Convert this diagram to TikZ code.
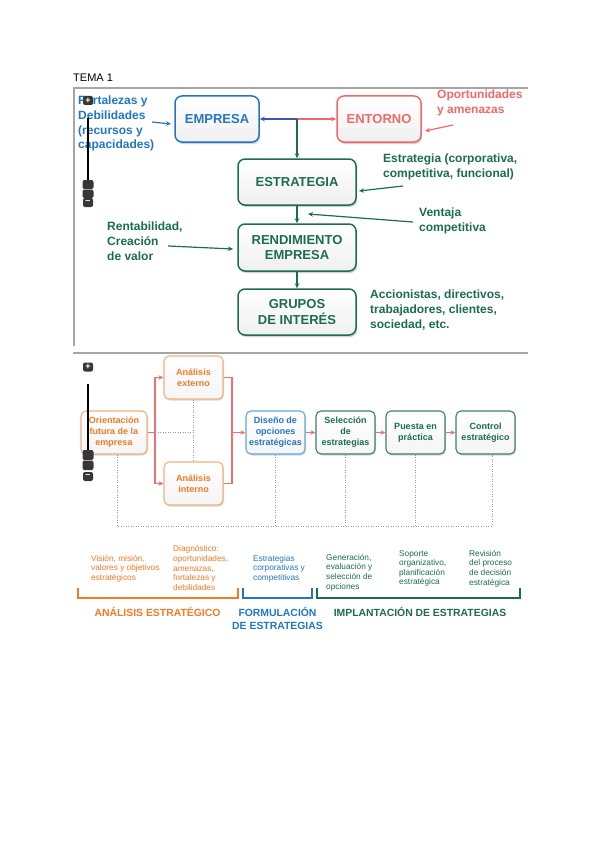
\documentclass[tikz,border=0pt]{standalone}
\usepackage{fontspec}
\setmainfont{Liberation Sans}
\usetikzlibrary{arrows.meta,shadows}
\definecolor{cBlue}{RGB}{35,118,195}
\definecolor{cRed}{RGB}{240,105,105}
\definecolor{cGreen}{RGB}{28,108,82}
\definecolor{cOrange}{RGB}{245,122,38}
\definecolor{cOrLight}{RGB}{240,178,125}
\definecolor{cBlLight}{RGB}{95,168,222}
\definecolor{cGrLight}{RGB}{60,128,106}
\definecolor{cLink}{RGB}{240,112,112}
\definecolor{cWidget}{RGB}{55,55,55}
\begin{document}
\begin{tikzpicture}[x=1pt,y=-1pt,
  topbox/.style={draw, line width=1.5pt, rounded corners=7pt, top color=white, bottom color=gray!12,
     drop shadow={opacity=0.35,shadow xshift=1.2pt,shadow yshift=-2pt}, align=center, inner sep=0,
     font=\bfseries\fontsize{13}{15.5}\selectfont},
  lowbox/.style={draw, line width=1.1pt, rounded corners=5pt, top color=white, bottom color=gray!8,
     drop shadow={opacity=0.3,shadow xshift=1pt,shadow yshift=-1.5pt}, align=center, inner sep=0,
     minimum width=59pt, minimum height=43pt, font=\bfseries\fontsize{9}{11}\selectfont},
  note/.style={anchor=north west, inner sep=0, align=left, font=\bfseries\fontsize{12}{14.6}\selectfont},
  small/.style={anchor=north west, inner sep=0, align=left, font=\fontsize{8.3}{9.6}\selectfont},
  phase/.style={inner sep=0, align=center, font=\bfseries\fontsize{10.4}{13}\selectfont},
  tip/.style={-{Stealth[length=5pt,width=4.5pt]}},
  ann/.style={tip, line width=1.2pt},
  link/.style={cLink, line width=1.2pt},
  dotline/.style={gray!80, line width=1pt, dash pattern=on 1pt off 1.5pt},
  frame/.style={gray!70, line width=1.3pt},
  wbtn/.style={fill=cWidget, rounded corners=2pt, minimum width=10pt, minimum height=9pt, inner sep=0, text=white, font=\bfseries\fontsize{9}{9}\selectfont}
]
\useasboundingbox (0,0) rectangle (600,848);
\fill[white] (0,0) rectangle (600,848);

% ---------- heading and frames ----------
\node[anchor=west, inner sep=0, font=\fontsize{11}{13}\selectfont] (tema) at (73,78) {TEMA 1};
\draw[frame] (73,88) -- (528,88);
\draw[frame] (74,88) -- (74,346);
\draw[frame] (73,353) -- (528,353);

% ---------- upper diagram ----------
\node[topbox, draw=cBlue, text=cBlue, minimum width=84pt, minimum height=46pt] (emp) at (217,119) {EMPRESA};
\node[topbox, draw=cRed, text=cRed, minimum width=84pt, minimum height=46pt] (ent) at (379,119) {ENTORNO};
\node[topbox, draw=cGreen, text=cGreen, minimum width=118pt, minimum height=46pt] (est) at (297,182) {ESTRATEGIA};
\node[topbox, draw=cGreen, text=cGreen, minimum width=118pt, minimum height=47pt] (ren) at (297,247.5) {RENDIMIENTO\\EMPRESA};
\node[topbox, draw=cGreen, text=cGreen, minimum width=118pt, minimum height=46pt] (gru) at (297,312) {GRUPOS\\DE INTERÉS};

\coordinate (j) at (297,119);
\draw[tip, line width=1.1pt, cBlue!70!violet] (j) -- (emp.east);
\draw[tip, line width=1.1pt, cRed] (j) -- (ent.west);
\draw[tip, line width=1.3pt, cGreen] (j) -- (est.north);
\draw[tip, line width=1.3pt, cGreen] (est.south) -- (ren.north);
\draw[tip, line width=1.3pt, cGreen] (ren.south) -- (gru.north);

\node[note, text=cBlue] (fort) at (78,96) {Fortalezas y\\Debilidades\\(recursos y\\capacidades)};
\node[note, text=cRed] (opo) at (437,90) {Oportunidades\\y amenazas};
\node[note, text=cGreen] (estn) at (383,154) {Estrategia (corporativa,\\competitiva, funcional)};
\node[note, text=cGreen] (ven) at (419,208) {Ventaja\\competitiva};
\node[note, text=cGreen] (rent) at (107,222) {Rentabilidad,\\Creación\\de valor};
\node[note, text=cGreen] (acc) at (370,290) {Accionistas, directivos,\\trabajadores, clientes,\\sociedad, etc.};

\coordinate (a1s) at (152,122); \coordinate (a1e) at (171,124);
\coordinate (a2s) at (453,125); \coordinate (a2e) at (425,131);
\coordinate (a3s) at (403,186); \coordinate (a3e) at (359,191);
\coordinate (a4s) at (413,222); \coordinate (a4e) at (308,214);
\coordinate (a5s) at (168,246); \coordinate (a5e) at (233,249);
\draw[ann, cBlue] (a1s) -- (a1e);
\draw[ann, cRed] (a2s) -- (a2e);
\draw[ann, cGreen] (a3s) -- (a3e);
\draw[ann, cGreen] (a4s) -- (a4e);
\draw[ann, cGreen] (a5s) -- (a5e);

% ---------- lower diagram ----------
\node[lowbox, draw=cOrLight, text=cOrange, minimum width=66pt] (ori) at (114,432.5) {Orientación\\futura de la\\empresa};
\node[lowbox, draw=cOrLight, text=cOrange] (aex) at (193.5,377.5) {Análisis\\externo};
\node[lowbox, draw=cOrLight, text=cOrange] (ain) at (193.5,483.5) {Análisis\\interno};
\node[lowbox, draw=cBlLight, text=cBlue] (dis) at (275.5,432.5) {Diseño de\\opciones\\estratégicas};
\node[lowbox, draw=cGrLight, text=cGreen] (sel) at (345.5,432.5) {Selección\\de\\estrategias};
\node[lowbox, draw=cGrLight, text=cGreen] (pue) at (415.5,432.5) {Puesta en\\práctica};
\node[lowbox, draw=cGrLight, text=cGreen] (con) at (485.5,432.5) {Control\\estratégico};

\coordinate (s1) at (155,432.5);
\coordinate (s2) at (232,432.5);
\coordinate (dc) at (193.5,432.5);
\draw[dotline] (s1) -- (dc);
\draw[dotline] (aex.south) -- (ain.north);
\draw[link] (ori.east) -- (s1);
\draw[link, tip] (s1) |- (aex.west);
\draw[link, tip] (s1) |- (ain.west);
\draw[link] (aex.east) -| (s2);
\draw[link] (ain.east) -| (s2);
\draw[link, tip] (s2) -- (dis.west);
\draw[link, tip] (dis.east) -- (sel.west);
\draw[link, tip] (sel.east) -- (pue.west);
\draw[link, tip] (pue.east) -- (con.west);

\coordinate (bl) at (117,526);
\coordinate (br) at (492,526);
\draw[dotline] ([xshift=3pt]ori.south) -- (bl) -- (br) -- ([xshift=6.5pt]con.south);
\draw[dotline] (dis.south) -- (dis.south |- bl);
\draw[dotline] (sel.south) -- (sel.south |- bl);
\draw[dotline] (pue.south) -- (pue.south |- bl);

% ---------- bottom descriptions ----------
\node[small, text=cOrange] (t1) at (91,555) {Visión, misión,\\valores y objetivos\\estratégicos};
\node[small, text=cOrange] (t2) at (173,545.5) {Diagnóstico:\\oportunidades,\\amenazas,\\fortalezas y\\debilidades};
\node[small, text=cBlue] (t3) at (253,555) {Estrategias\\corporativas y\\competitivas};
\node[small, text=cGreen] (t4) at (326,554) {Generación,\\evaluación y\\selección de\\opciones};
\node[small, text=cGreen] (t5) at (399,550) {Soporte\\organizativo,\\planificación\\estratégica};
\node[small, text=cGreen] (t6) at (469,550) {Revisión\\del proceso\\de decisión\\estratégica};

\draw[cOrange, line width=2pt] (78,588) -- (78,598) -- (238,598) -- (238,588);
\draw[cBlue, line width=2pt] (243,588) -- (243,598) -- (312,598) -- (312,588);
\draw[cGreen, line width=2pt] (317,588) -- (317,598) -- (520,598) -- (520,588);

\node[phase, text=cOrange] (p1) at (157.5,612) {ANÁLISIS ESTRATÉGICO};
\node[phase, text=cBlue] (p2) at (277.5,618.5) {FORMULACIÓN\\DE ESTRATEGIAS};
\node[phase, text=cGreen] (p3) at (420,612) {IMPLANTACIÓN DE ESTRATEGIAS};

% ---------- zoom widgets ----------
\node[wbtn] (w1p) at (88,100.5) {+};
\draw[black, line width=2.5pt] (88,118) -- (88,181);
\fill[cWidget, rounded corners=2pt] (82.5,180) rectangle (93.5,189);
\fill[cWidget, rounded corners=2pt] (82.5,189.5) rectangle (93.5,198);
\node[wbtn] (w1m) at (88,202.5) {–};

\node[wbtn] (w2p) at (88,367) {+};
\draw[black, line width=2.5pt] (88,384) -- (88,451);
\fill[cWidget, rounded corners=2pt] (82.5,450) rectangle (93.5,460);
\fill[cWidget, rounded corners=2pt] (82.5,460.5) rectangle (93.5,470);
\node[wbtn] (w2m) at (88,476.5) {–};
\end{tikzpicture}
\end{document}
